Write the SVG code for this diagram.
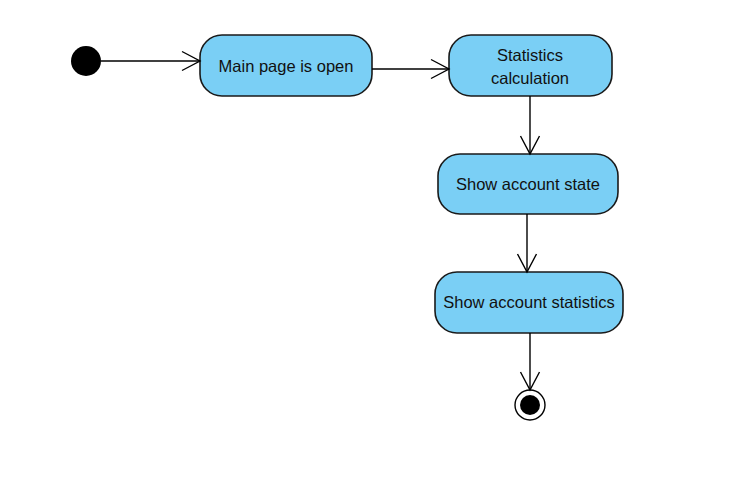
<svg xmlns="http://www.w3.org/2000/svg" width="736" height="481" viewBox="0 0 736 481">
<defs>
<marker id="open" markerWidth="24" markerHeight="24" refX="19" refY="12" orient="auto" markerUnits="userSpaceOnUse">
<path d="M1,2.5 L19,12 L1,21.5" fill="none" stroke="#000" stroke-width="1.4"/>
</marker>
<style>
.act{fill:#7ACFF5;stroke:#1a1a1a;stroke-width:1.6}
.lbl{font-family:"Liberation Sans",Arial,sans-serif;font-size:16.5px;fill:#111;text-anchor:middle}
.edge{fill:none;stroke:#000;stroke-width:1.4}
</style>
</defs>
<rect width="736" height="481" fill="#fff"/>
<g id="initial"><circle cx="86" cy="61" r="15" fill="#000"/></g>
<g id="main"><rect class="act" x="200" y="35" width="172" height="61" rx="22"/><text class="lbl" x="286" y="72">Main page is open</text></g>
<g id="stats"><rect class="act" x="449" y="35" width="163" height="61" rx="22"/><text class="lbl" x="530" y="61">Statistics</text><text class="lbl" x="530" y="84">calculation</text></g>
<g id="state"><rect class="act" x="438" y="154" width="180" height="60" rx="22"/><text class="lbl" x="528" y="190">Show account state</text></g>
<g id="accstats"><rect class="act" x="435" y="272" width="188" height="61" rx="22"/><text class="lbl" x="529" y="308">Show account statistics</text></g>
<g id="final"><circle cx="530" cy="405" r="15" fill="#fff" stroke="#000" stroke-width="1.4"/><circle cx="530" cy="405" r="10" fill="#000"/></g>
<g id="connectors">
<path class="edge" d="M101,61 L200,61" marker-end="url(#open)"/>
<path class="edge" d="M372,69 L449,69" marker-end="url(#open)"/>
<path class="edge" d="M530,96 L530,154" marker-end="url(#open)"/>
<path class="edge" d="M527,214 L527,272" marker-end="url(#open)"/>
<path class="edge" d="M530,333 L530,390" marker-end="url(#open)"/>
</g>
</svg>
